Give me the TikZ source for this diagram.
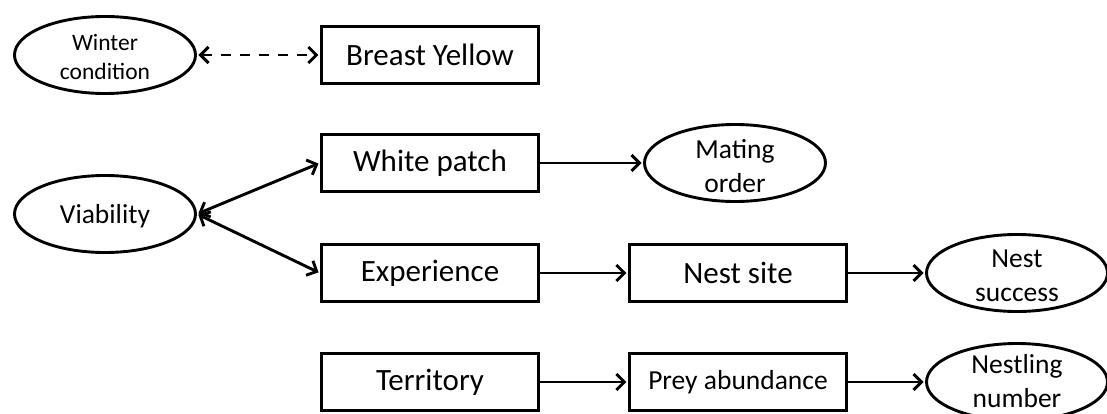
\documentclass[tikz,border=0pt]{standalone}
\usepackage{fontspec}
\setmainfont{Carlito}
\usetikzlibrary{shapes.geometric,arrows.meta}
\begin{document}
\begin{tikzpicture}[x=1pt,y=-1pt,
  box/.style={draw, line width=3.2pt, minimum width=217pt, minimum height=57pt, inner sep=0pt,
    font=\fontsize{31}{37}\selectfont},
  pbox/.style={box, font=\fontsize{27.5}{33}\selectfont},
  ell/.style={draw, ellipse, line width=2.9pt, minimum width=181pt, minimum height=77pt, inner sep=0pt},
  etext/.style={align=center, inner sep=0pt, yshift=-3pt, font=\fontsize{27.5}{33.5}\selectfont},
  wtext/.style={align=center, inner sep=0pt, yshift=-2pt, font=\fontsize{23.5}{29}\selectfont},
  barb/.tip={Straight Barb[length=8pt,width=16pt]},
  conn/.style={line width=2.9pt, -barb, shorten >=1.5pt},
  both/.style={line width=2.9pt, barb-barb, shorten >=1.5pt, shorten <=1.5pt}]
\useasboundingbox (0,0) rectangle (1107,414);
\clip (0,0) rectangle (1107,414);
% ellipses
\node[ell, label={[wtext]center:{Winter\\condition}}] (win) at (105,55) {};
\node[ell, label={[etext, yshift=1pt]center:{Viability}}] (via) at (105,214) {};
\node[ell, label={[etext]center:{Mating\\order}}] (mat) at (735,163) {};
\node[ell, label={[etext]center:{Nest\\success}}] (nsu) at (1017,273) {};
\node[ell, label={[etext, yshift=4pt]center:{Nestling\\number}}] (nno) at (1017,382) {};
% boxes
\node[box] (by) at (430,55) {Breast Yellow};
\node[box] (wp) at (430,163) {White patch};
\node[box] (exp) at (430,273) {Experience};
\node[box] (ter) at (430,382) {Territory};
\node[box] (nsi) at (738,273) {Nest site};
\node[pbox] (pa) at (738,382) {Prey abundance};
% connectors
\draw[both, dash pattern=on 10pt off 9pt] (win.east) -- (by.west);
\draw[both] (via.east) -- (wp.west);
\draw[both] (via.east) -- (exp.west);
\draw[conn] (wp.east) -- (mat.west);
\draw[conn] (exp.east) -- (nsi.west);
\draw[conn] (nsi.east) -- (nsu.west);
\draw[conn] (ter.east) -- (pa.west);
\draw[conn] (pa.east) -- (nno.west);
\end{tikzpicture}
\end{document}
